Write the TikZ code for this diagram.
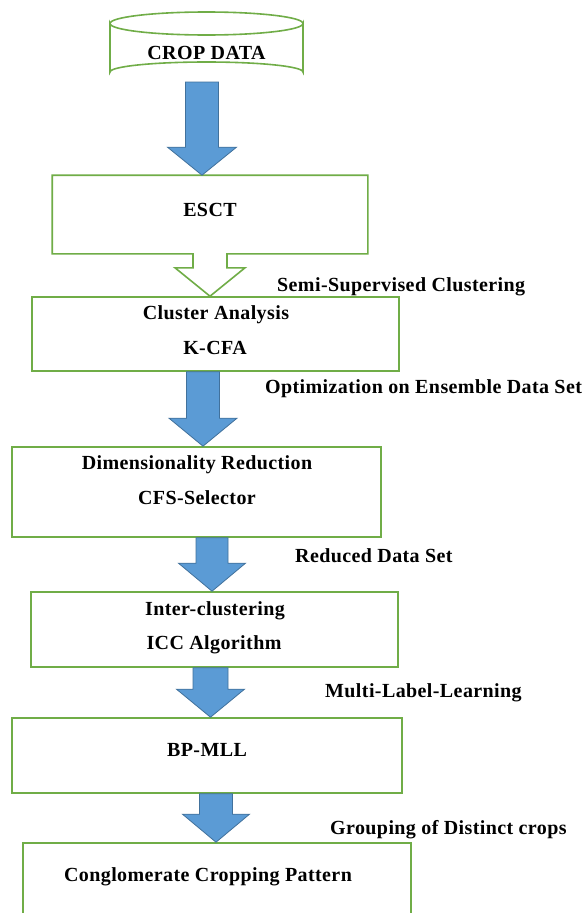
\documentclass[tikz,border=0pt]{standalone}
\usepackage{fontspec}
\setmainfont{Liberation Serif}[LetterSpace=2]
\usetikzlibrary{calc}
\definecolor{boxgreen}{HTML}{70AD47}
\definecolor{arrowblue}{HTML}{5B9BD5}
\definecolor{arrowedge}{HTML}{41719C}
\newcommand\bluearrow[5]{%
  \draw[blockarrow] let \p1=(#1.south), \p2=(#2.north) in
    ({#3pt-#4pt},\y1) -- ({#3pt-#4pt},{\y2+28pt}) -- ({#3pt-#5pt},{\y2+28pt})
    -- (#3pt,\y2) -- ({#3pt+#5pt},{\y2+28pt}) -- ({#3pt+#4pt},{\y2+28pt})
    -- ({#3pt+#4pt},\y1) -- cycle;}
\begin{document}
\begin{tikzpicture}[x=1pt,y=-1pt,
  stagebox/.style={draw=boxgreen, line width=1.6pt, fill=white, inner sep=0pt},
  outline/.style={draw=boxgreen, line width=1.6pt, fill=white, line join=miter},
  boxtext/.style={font=\bfseries\fontsize{20}{24}\selectfont, anchor=base, inner sep=0pt},
  edgelabel/.style={font=\bfseries\fontsize{20}{24}\selectfont, anchor=base west, inner sep=0pt},
  blockarrow/.style={fill=arrowblue, draw=arrowedge, line width=0.8pt, line join=miter}]
\clip (0,0) rectangle (585,913);
\fill[white] (0,0) rectangle (585,913);

% cylinder
\node[minimum width=193pt, minimum height=60pt, inner sep=0pt, outer sep=0pt] (crop) at (206.5,52) {};
\draw[outline] (110,23.5) -- (110,72) arc[start angle=180, end angle=360, x radius=96.5, y radius=10]
  -- (303,23.5) arc[start angle=0, end angle=180, x radius=96.5, y radius=11.5] -- cycle;
\draw[boxgreen, line width=1.6pt] (110,23.5) arc[start angle=180, end angle=360, x radius=96.5, y radius=11.5];
\node[boxtext] (cropT) at (206.5,59.5) {CROP DATA};

% boxes
\node[stagebox, draw=none, fill=none, minimum width=314pt, minimum height=77pt] (esct) at (210,214.5) {};
\node[stagebox, minimum width=367pt, minimum height=74pt] (clus) at (215.5,334) {};
\node[stagebox, minimum width=369pt, minimum height=90pt] (dim) at (196.5,492) {};
\node[stagebox, minimum width=367pt, minimum height=75pt] (inter) at (214.5,629.5) {};
\node[stagebox, minimum width=390pt, minimum height=75pt] (bp) at (207,755.5) {};
\node[stagebox, minimum width=388pt, minimum height=90pt] (cong) at (217,888) {};

% ESCT box merged with hollow arrow
\draw[outline] let \p1=(esct.south), \p2=(clus.north) in
  (esct.north west) -- (esct.north east) -- (esct.south east)
  -- (227pt,\y1) -- (227pt,{\y1-14pt}) -- (245pt,{\y1-14pt}) -- (210pt,\y2)
  -- (175pt,{\y1-14pt}) -- (193pt,{\y1-14pt}) -- (193pt,\y1) -- (esct.south west) -- cycle;

% box texts
\node[boxtext] (esctT) at (210,216.5) {ESCT};
\node[boxtext] (clusT1) at (216,319.5) {Cluster Analysis};
\node[boxtext] (clusT2) at (215,354.5) {K-CFA};
\node[boxtext] (dimT1) at (197,469.5) {Dimensionality Reduction};
\node[boxtext] (dimT2) at (197,504.5) {CFS-Selector};
\node[boxtext] (interT1) at (215,615.5) {Inter-clustering};
\node[boxtext] (interT2) at (214,649.5) {ICC Algorithm};
\node[boxtext] (bpT) at (207,756.5) {BP-MLL};
\node[boxtext] (congT) at (208,881.5) {Conglomerate Cropping Pattern};

% blue arrows
\bluearrow{crop}{esct}{202}{16.5}{34.5}
\bluearrow{clus}{dim}{203}{16.5}{34}
\bluearrow{dim}{inter}{212}{16}{33.5}
\bluearrow{inter}{bp}{210.5}{17.5}{34}
\bluearrow{bp}{cong}{216}{16.5}{33.5}

% labels
\node[edgelabel] (l1) at (277,291) {Semi-Supervised Clustering};
\node[edgelabel] (l2) at (265,393) {Optimization on Ensemble Data Set};
\node[edgelabel] (l3) at (295,562) {Reduced Data Set};
\node[edgelabel] (l4) at (325,697) {Multi-Label-Learning};
\node[edgelabel] (l5) at (330,834) {Grouping of Distinct crops};
\end{tikzpicture}
\end{document}
